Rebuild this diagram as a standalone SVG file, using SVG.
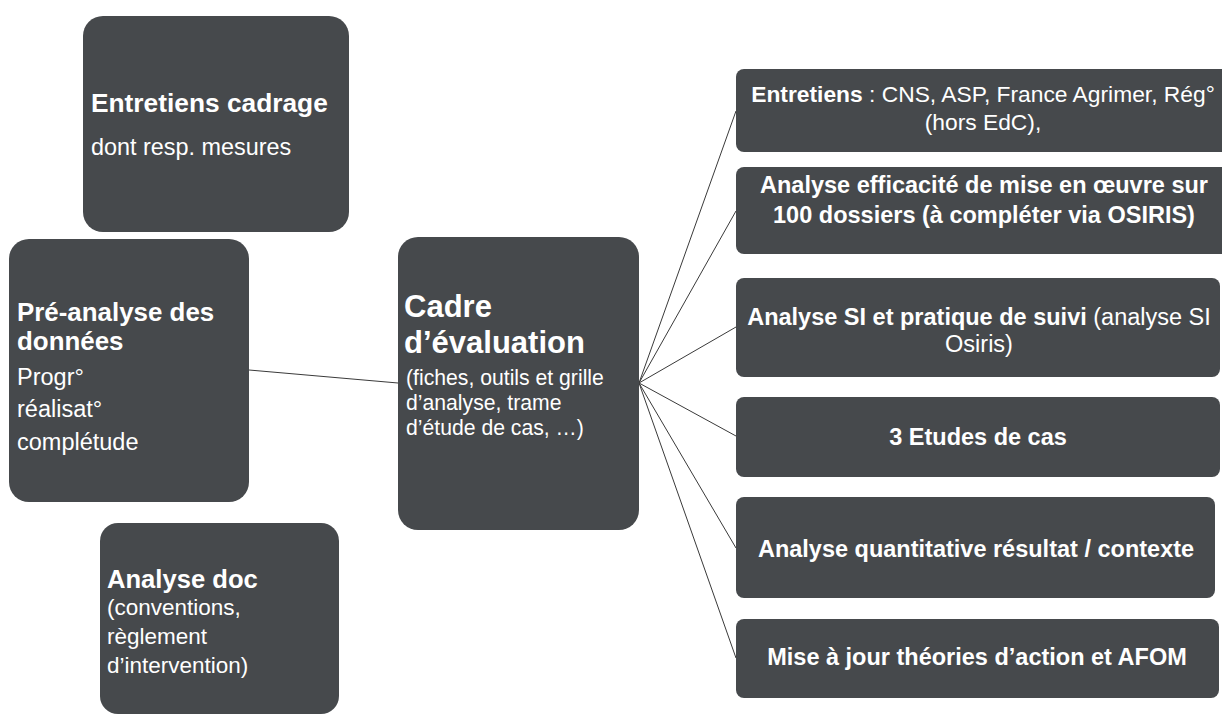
<svg xmlns="http://www.w3.org/2000/svg" width="1222" height="715" viewBox="0 0 1222 715">
<style>
.box{fill:#46494c;}
text{font-family:"Liberation Sans",Arial,sans-serif;fill:#ffffff;}
.b{font-weight:bold;}
.c{text-anchor:middle;}
.r{font-size:23.5px;}
.conn line{stroke:#3a3a3a;stroke-width:1;}
</style>
<rect width="1222" height="715" fill="#ffffff"/>
<g class="conn" id="connectors">
<line x1="249" y1="370" x2="398" y2="383"/>
<line x1="639" y1="383" x2="736" y2="111"/>
<line x1="639" y1="383" x2="736" y2="211"/>
<line x1="639" y1="383" x2="736" y2="327"/>
<line x1="639" y1="383" x2="736" y2="436"/>
<line x1="639" y1="383" x2="736" y2="548"/>
<line x1="639" y1="383" x2="736" y2="658"/>
</g>
<g id="n-cadrage">
<rect class="box" x="83" y="16" width="266" height="216" rx="20"/>
<text x="91" y="112" class="b" font-size="26.3">Entretiens cadrage</text>
<text x="91" y="155" font-size="23.4">dont resp. mesures</text>
</g>
<g id="n-preanalyse">
<rect class="box" x="9" y="239" width="240" height="263" rx="20"/>
<text x="17" y="321" class="b" font-size="25.9">Pré-analyse des</text>
<text x="17" y="350" class="b" font-size="25.9">données</text>
<text x="17" y="385" font-size="23.5">Progr°</text>
<text x="17" y="417" font-size="23.5">réalisat°</text>
<text x="17" y="450" font-size="23.5">complétude</text>
</g>
<g id="n-analysedoc">
<rect class="box" x="100" y="523" width="239" height="191" rx="18"/>
<text x="107" y="588" class="b" font-size="25.6">Analyse doc</text>
<text x="107" y="615" font-size="22.5">(conventions,</text>
<text x="107" y="644" font-size="22.5">règlement</text>
<text x="107" y="673" font-size="22.5">d’intervention)</text>
</g>
<g id="n-cadre">
<rect class="box" x="398" y="237" width="241" height="293" rx="20"/>
<text x="404" y="317" class="b" font-size="31">Cadre</text>
<text x="404" y="353" class="b" font-size="31">d’évaluation</text>
<text x="406" y="385" font-size="21.2">(fiches, outils et grille</text>
<text x="406" y="410" font-size="21.2">d’analyse, trame</text>
<text x="406" y="435" font-size="21.2">d’étude de cas, …)</text>
</g>
<g id="n-entretiens">
<rect class="box" x="736" y="69" width="496" height="83" rx="8"/>
<text x="983" y="102" class="c" font-size="22.8"><tspan class="b">Entretiens</tspan> : CNS, ASP, France Agrimer, Rég°</text>
<text x="983" y="130" class="c" font-size="22.8">(hors EdC),</text>
</g>
<g id="n-efficacite">
<rect class="box" x="736" y="167" width="496" height="87" rx="8"/>
<text x="984" y="193" class="c b r">Analyse efficacité de mise en œuvre sur</text>
<text x="984" y="223" class="c b r">100 dossiers (à compléter via OSIRIS)</text>
</g>
<g id="n-si">
<rect class="box" x="736" y="278" width="484" height="99" rx="8"/>
<text x="979" y="325" class="c r"><tspan class="b">Analyse SI et pratique de suivi</tspan> (analyse SI</text>
<text x="979" y="352" class="c r">Osiris)</text>
</g>
<g id="n-etudes">
<rect class="box" x="736" y="397" width="484" height="80" rx="8"/>
<text x="978" y="445" class="c b r">3 Etudes de cas</text>
</g>
<g id="n-quanti">
<rect class="box" x="736" y="497" width="479" height="101" rx="8"/>
<text x="976" y="557" class="c b r">Analyse quantitative résultat / contexte</text>
</g>
<g id="n-afom">
<rect class="box" x="736" y="619" width="483" height="79" rx="8"/>
<text x="977" y="665" class="c b r">Mise à jour théories d’action et AFOM</text>
</g>
</svg>
